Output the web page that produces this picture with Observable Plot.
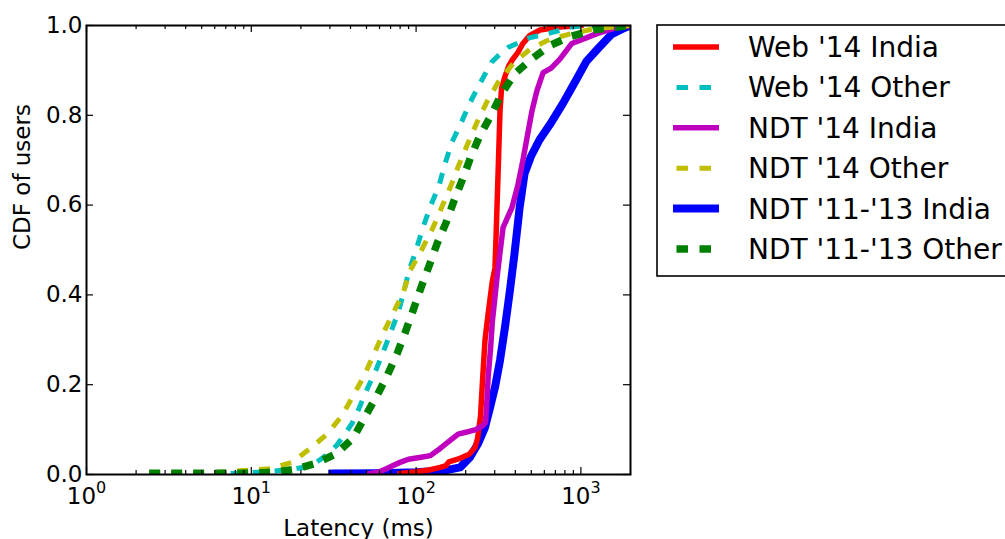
<!DOCTYPE html>
<html><head><meta charset="utf-8">
<script src="https://cdn.jsdelivr.net/npm/d3@7"></script>
<script src="https://cdn.jsdelivr.net/npm/@observablehq/plot@0.6"></script>
<style>
html,body{margin:0;padding:0;background:#fff;}
#chart{width:1005px;height:539px;overflow:hidden;}
</style></head><body><div id="chart"></div>
<script>
// ---- data: [latency ms, CDF] ----
const webIndia = [[80,0.002],[100,0.006],[120,0.01],[140,0.016],[152,0.02],[158,0.028],[185,0.036],[210,0.045],[228,0.06],[236,0.08],[240,0.1],[246,0.13],[255,0.23],[262,0.3],[272,0.35],[290,0.43],[301,0.46],[305,0.52],[315,0.68],[323,0.81],[330,0.86],[345,0.885],[365,0.91],[381,0.922],[415,0.94],[445,0.96],[490,0.978],[565,0.99],[716,0.996],[1000,1]];
const webOther = [[7.5,0.002],[10,0.004],[13,0.007],[17,0.011],[21,0.016],[25,0.028],[29,0.045],[33,0.065],[37,0.09],[41,0.115],[45,0.147],[50,0.187],[57,0.232],[63,0.272],[70,0.316],[78,0.361],[84,0.405],[90,0.45],[100,0.5],[110,0.55],[123,0.6],[138,0.644],[150,0.693],[165,0.74],[188,0.784],[213,0.829],[246,0.873],[287,0.918],[330,0.94],[361,0.951],[420,0.962],[471,0.971],[560,0.978],[646,0.983],[760,0.99],[854,0.996],[1000,0.999],[1300,1]];
const ndt14India = [[52,0.002],[60,0.006],[66,0.013],[72.5,0.02],[80,0.027],[90,0.034],[105,0.038],[122,0.042],[140,0.058],[161,0.076],[180,0.09],[200,0.094],[230,0.1],[252,0.108],[264,0.116],[269,0.165],[274,0.22],[283,0.28],[290,0.34],[300,0.39],[310,0.44],[322,0.49],[337,0.55],[382,0.595],[415,0.645],[445,0.7],[471,0.75],[505,0.81],[541,0.855],[590,0.895],[660,0.905],[746,0.925],[881,0.96],[1087,0.973],[1250,0.982],[1563,0.993],[2000,1]];
const ndt14Other = [[2.4,0.003],[4,0.003],[6,0.004],[8.9,0.009],[13,0.013],[17.7,0.027],[22.8,0.058],[29,0.091],[35.5,0.131],[41.6,0.176],[48.4,0.22],[55,0.265],[63,0.314],[72.5,0.359],[83.5,0.405],[92,0.454],[109,0.503],[126,0.548],[145,0.6],[163,0.644],[182,0.69],[206,0.737],[234,0.784],[269,0.83],[314,0.873],[387,0.915],[490,0.947],[646,0.969],[881,0.982],[1216,0.993],[1660,0.997],[2000,1]];
const ndt1113India = [[31,0.002],[60,0.003],[100,0.005],[150,0.009],[185,0.016],[212,0.038],[238,0.069],[262,0.105],[281,0.149],[301,0.194],[323,0.254],[346,0.327],[371,0.41],[395,0.49],[425,0.595],[455,0.67],[500,0.71],[560,0.745],[650,0.78],[777,0.826],[930,0.877],[1080,0.92],[1280,0.95],[1530,0.98],[1850,0.995],[2000,1]];
const ndt1113Other = [[2.4,0.003],[6,0.003],[9,0.003],[12,0.004],[15,0.007],[18,0.011],[24.4,0.024],[33,0.047],[41.7,0.082],[49,0.129],[58,0.176],[66.7,0.22],[76.7,0.269],[85.8,0.316],[95.8,0.365],[107,0.416],[120,0.465],[134,0.514],[152,0.561],[170,0.61],[193,0.661],[215,0.708],[244,0.755],[285,0.8],[331,0.849],[398,0.893],[505,0.926],[646,0.955],[854,0.975],[1216,0.991],[2000,1]];

const seriesNames = ["Web '14 India", "Web '14 Other", "NDT '14 India", "NDT '14 Other", "NDT '11-'13 India", "NDT '11-'13 Other"];
const seriesData = [webIndia, webOther, ndt14India, ndt14Other, ndt1113India, ndt1113Other];

const xMajorTicks = [1, 10, 100, 1000];
const xTickLabels = ["10\u2070", "10\u00B9", "10\u00B2", "10\u00B3"];
const xMinorTicks = [2,3,4,5,6,7,8,9,20,30,40,50,60,70,80,90,200,300,400,500,600,700,800,900];
const yTicks = [0, 0.2, 0.4, 0.6, 0.8, 1.0];
const yTickLabels = ["0.0", "0.2", "0.4", "0.6", "0.8", "1.0"];
const xLabel = "Latency (ms)";
const yLabel = "CDF of users";

// ---- styles (separate from data) ----
const seriesColors = ["#ff0000", "#00bfbf", "#bf00bf", "#bfbf00", "#0000ff", "#008000"];
const seriesWidths = [5.5, 5, 5.5, 5, 8, 7.5];
const seriesDashed = [false, true, false, true, false, true];
const drawOrder = [4, 0, 1, 2, 3, 5];

const W = 1005, H = 539, mL = 86, mR = 375, mT = 25, mB = 65;
const xDomain = [1, 2000];
const plotW = W - mL - mR, plotH = H - mT - mB;
const decPx = plotW / Math.log10(xDomain[1] / xDomain[0]);
const kx = px => Math.pow(10, px / decPx);
const ky = px => px / plotH;
const FONT = "DejaVu Sans, Bitstream Vera Sans, sans-serif";

const toRows = (arr, i) => arr.map(([lat, cdf]) => ({lat, cdf, series: seriesNames[i]}));

const lineMarks = drawOrder.map(i => Plot.line(toRows(seriesData[i], i), {
  x: "lat", y: "cdf",
  stroke: seriesColors[i],
  strokeWidth: seriesWidths[i],
  strokeDasharray: seriesDashed[i] ? "11,11" : null,
  strokeLinecap: seriesDashed[i] ? "butt" : "square",
  strokeLinejoin: "round",
  clip: true
}));

const tickStyle = {stroke: "black", strokeWidth: 1.2};
const chart = Plot.plot({
  width: W, height: H,
  marginLeft: mL, marginRight: mR, marginTop: mT, marginBottom: mB,
  style: {fontFamily: FONT, fontSize: "23px", background: "white", color: "black"},
  x: {type: "log", domain: xDomain, ticks: xMajorTicks,
      tickFormat: d => xTickLabels[xMajorTicks.indexOf(d)] ?? "",
      tickSize: 0, tickPadding: 13, label: null},
  y: {domain: [0, 1], ticks: yTicks,
      tickFormat: d => yTickLabels[yTicks.findIndex(t => Math.abs(t - d) < 1e-9)],
      tickSize: 0, tickPadding: 4, label: null},
  marks: [
    ...lineMarks,
    // inward ticks on all four sides
    Plot.ruleX(xMajorTicks, {x: d => d, y1: 0, y2: ky(7), ...tickStyle}),
    Plot.ruleX(xMajorTicks, {x: d => d, y1: 1, y2: 1 - ky(7), ...tickStyle}),
    Plot.ruleX(xMinorTicks, {x: d => d, y1: 0, y2: ky(4), ...tickStyle}),
    Plot.ruleX(xMinorTicks, {x: d => d, y1: 1, y2: 1 - ky(4), ...tickStyle}),
    Plot.ruleY(yTicks, {y: d => d, x1: xDomain[0], x2: xDomain[0] * kx(7), ...tickStyle}),
    Plot.ruleY(yTicks, {y: d => d, x1: xDomain[1], x2: xDomain[1] / kx(7), ...tickStyle}),
    Plot.frame({stroke: "black", strokeWidth: 2}),
    Plot.text([xLabel], {text: d => d, frameAnchor: "bottom", dy: 61, fontSize: 23}),
    Plot.text([yLabel], {text: d => d, frameAnchor: "left", rotate: -90, dx: -64, fontSize: 23})
  ]
});
document.getElementById("chart").append(chart);
const svgEl = chart.tagName.toLowerCase() === "svg" ? chart : chart.querySelector("svg");
const svg = d3.select(svgEl);

// ---- mathtext-like superscripts on the x tick labels ----
const supMap = {"\u2070": "0", "\u00B9": "1", "\u00B2": "2", "\u00B3": "3"};
svg.selectAll('g[aria-label="x-axis tick label"] text').each(function() {
  const s = this.textContent;
  const last = s.slice(-1);
  if (!(last in supMap)) return;
  const t = d3.select(this);
  t.text(null);
  t.append("tspan").text(s.slice(0, -1));
  t.append("tspan").attr("font-size", 16).attr("dy", -11).text(supMap[last]);
});

// ---- legend drawn into the Plot SVG ----
const lg = svg.append("g").attr("class", "legend").attr("font-family", FONT)
  .attr("font-size", 28).attr("text-anchor", "start");
const boxX = 657, boxY = 25, boxH = 251, row0 = 47, rowStep = 40.4;
lg.append("rect").attr("x", boxX).attr("y", boxY).attr("width", 400).attr("height", boxH)
  .attr("fill", "white").attr("stroke", "black").attr("stroke-width", 1.6);
seriesNames.forEach((name, i) => {
  const y = row0 + i * rowStep;
  lg.append("line").attr("x1", 673).attr("x2", 719).attr("y1", y).attr("y2", y)
    .attr("stroke", seriesColors[i]).attr("stroke-width", seriesWidths[i])
    .attr("stroke-dasharray", seriesDashed[i] ? "11.5,11.5" : null)
    .attr("stroke-dashoffset", seriesDashed[i] ? 19.5 : null);
  lg.append("text").attr("x", 748).attr("y", y).attr("dy", "0.36em")
    .attr("fill", "black").attr("text-anchor", "start").text(name);
});
</script></body></html>
